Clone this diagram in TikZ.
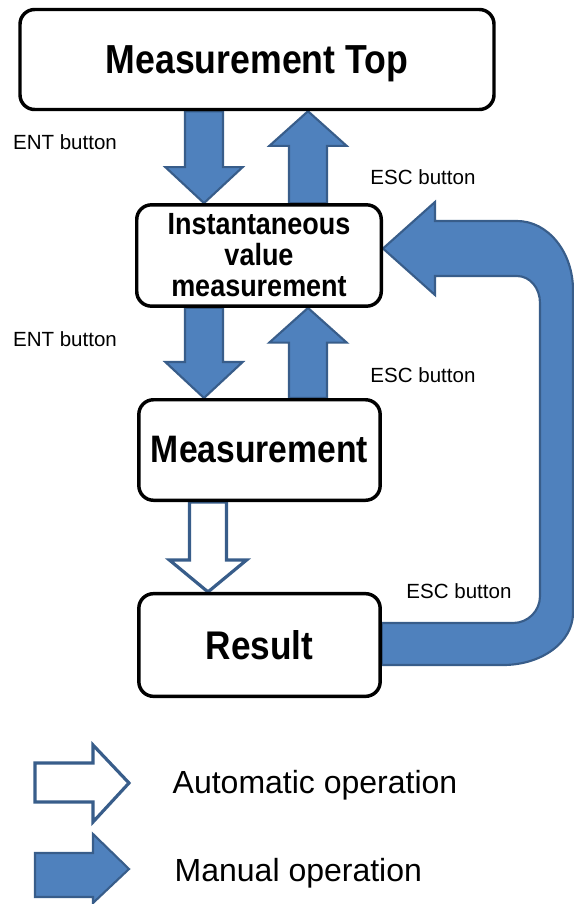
\documentclass[tikz,border=0pt]{standalone}
\usepackage{fontspec}
\setmainfont{Liberation Sans}
\newfontfamily\boxfont{Liberation Sans}[FakeStretch=0.88]
\usetikzlibrary{calc,backgrounds}
\definecolor{opFill}{RGB}{79,129,189}
\definecolor{opLine}{RGB}{56,93,138}

% block arrow: style, start, tip, shaft half width, head half width, head length
\newcommand{\blockarrow}[6]{%
  \coordinate (hb) at ($(#3)!#6!(#2)$);
  \draw[#1] ($(#2)!#4!90:(#3)$) -- ($(hb)!#4!90:(#3)$) -- ($(hb)!#5!90:(#3)$) -- (#3)
    -- ($(hb)!#5!-90:(#3)$) -- ($(hb)!#4!-90:(#3)$) -- ($(#2)!#4!-90:(#3)$) -- cycle;}

\tikzset{
  statebox/.style={draw, line width=2.6pt, rounded corners=11pt, inner sep=0pt, align=center},
  keylabel/.style={font=\fontsize{15.4}{18}\selectfont},
  legendtext/.style={font=\fontsize{24}{28}\selectfont, anchor=west},
  manualop/.style={fill=opFill, draw=opLine, line width=1.6pt},
  autoop/.style={fill=white, draw=opLine, line width=2.4pt},
}

\begin{document}
\begin{tikzpicture}[x=0.75pt,y=-0.75pt]
    \useasboundingbox (0,0) rectangle (574,904);

    % states
    \node[statebox, minimum width=355.5pt, minimum height=75pt, text depth=0pt,
          font=\boxfont\bfseries\fontsize{30.4}{34}\selectfont] (top) at (257,59.5) {Measurement Top};
    \node[statebox, minimum width=183.4pt, minimum height=76pt,
          font=\boxfont\bfseries\fontsize{23}{23.25}\selectfont] (inst) at (259,255.5) {Instantaneous\\value\\measurement};
    \node[statebox, minimum width=181pt, minimum height=75.4pt,
          font=\boxfont\bfseries\fontsize{28.7}{32}\selectfont] (meas) at (259.5,450) {Measurement};
    \node[statebox, minimum width=181pt, minimum height=77pt,
          font=\boxfont\bfseries\fontsize{30}{34}\selectfont] (result) at (259.5,645) {Result};

    % key labels
    \node[keylabel] (ent1) at (65,142) {ENT button};
    \node[keylabel] (ent2) at (65,339) {ENT button};
    \node[keylabel] (esc1) at (423,177) {ESC button};
    \node[keylabel] (esc2) at (423,375) {ESC button};
    \node[keylabel] (esc3) at (459,591) {ESC button};

    % transitions
    \coordinate (lft) at (204,0);
    \coordinate (rgt) at (308,0);
    \coordinate (mid) at (208,0);
    \begin{pgfonlayer}{background}
        \coordinate (d1s) at (lft |- top.south);
        \coordinate (d1e) at (lft |- inst.north);
        \coordinate (u1s) at (rgt |- inst.north);
        \coordinate (u1e) at (rgt |- top.south);
        \coordinate (d2s) at (lft |- inst.south);
        \coordinate (d2e) at (lft |- meas.north);
        \coordinate (u2s) at (rgt |- meas.north);
        \coordinate (u2e) at (rgt |- inst.south);
        \coordinate (a1s) at (mid |- meas.south);
        \coordinate (a1e) at (mid |- result.north);
        \blockarrow{manualop}{d1s}{d1e}{14.25pt}{29pt}{27pt}
        \blockarrow{manualop}{u1s}{u1e}{14.25pt}{29pt}{26pt}
        \blockarrow{manualop}{d2s}{d2e}{14.25pt}{29pt}{27pt}
        \blockarrow{manualop}{u2s}{u2e}{14.25pt}{29pt}{26pt}
        \blockarrow{autoop}{a1s}{a1e}{13.9pt}{29pt}{24pt}

        % return from result
        \coordinate (esc) at ($(inst.east)+(0,-7)$);
        \draw[manualop] ($(result.east)+(0,-22)$) -- (513,623)
            .. controls (528,623) and (540,611) .. (540,596) -- (540,303)
            .. controls (540,288) and (530,276) .. (517,276) -- (435,276) -- (435,295)
            -- (esc) -- (435,202) -- (435,221) -- (517,221)
            .. controls (548,221) and (573,252) .. (573,290) -- (573,613)
            .. controls (573,642) and (542,665) .. (503,665)
            -- ($(result.east)+(0,20)$) -- cycle;
    \end{pgfonlayer}

    % legend
    \draw[autoop] (35,763) -- (93,763) -- (93,745) -- (129,783) -- (93,822) -- (93,802) -- (35,802) -- cycle;
    \draw[manualop] (35,853) -- (93,853) -- (93,834) -- (129,869) -- (93,903) -- (93,897) -- (35,897) -- cycle;
    \node[legendtext] (autotext) at (168,785) {Automatic operation};
    \node[legendtext] (mantext) at (170,873) {Manual operation};
\end{tikzpicture}
\end{document}
